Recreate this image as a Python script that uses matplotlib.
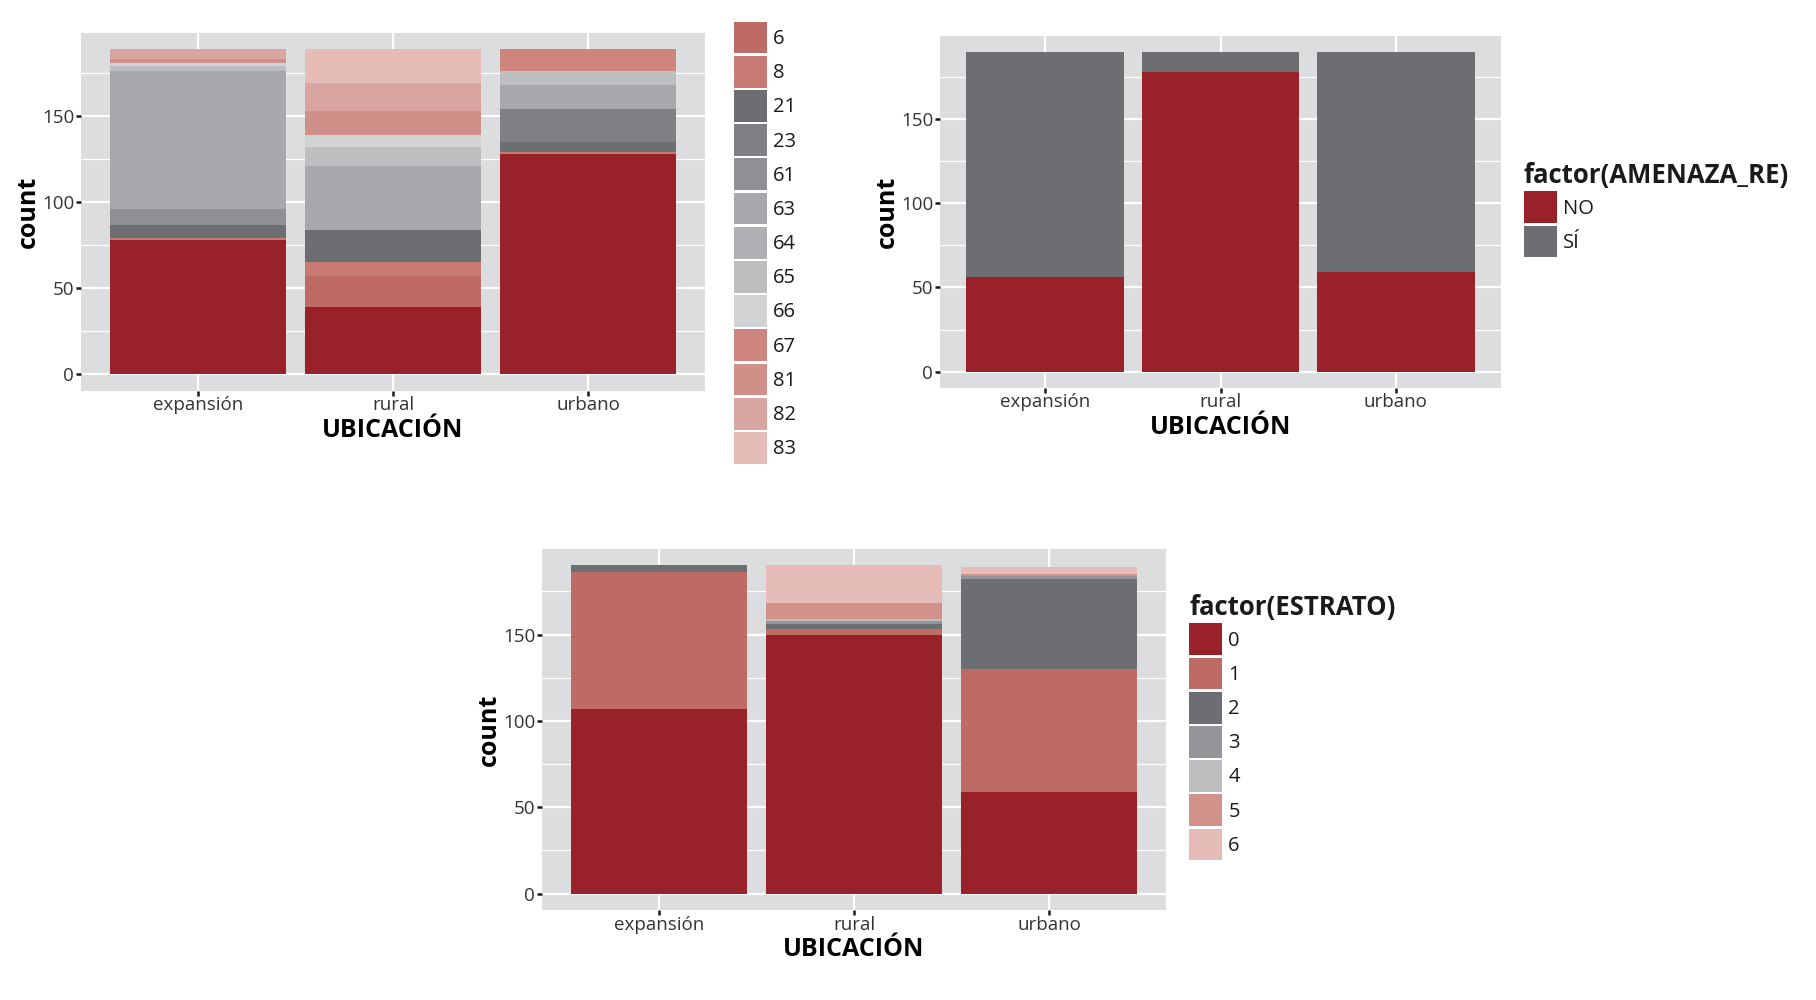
import matplotlib.pyplot as plt
import matplotlib as mpl
from matplotlib.patches import Patch
from matplotlib.ticker import MultipleLocator

mpl.rcParams['font.family'] = ['Open Sans', 'DejaVu Sans']
mpl.rcParams['text.color'] = '#1a1a1a'

ubicacion = ['expansión', 'rural', 'urbano']

# panel 1 (top left): first level is not visible in the legend
niveles_1 = ['0', '6', '8', '21', '23', '61', '63', '64', '65', '66', '67', '81', '82', '83']
colores_1 = ['#98212a', '#bd6b64', '#c87a75', '#6d6e71', '#7f8083', '#8f9093',
             '#a6a8ab', '#aeb0b3', '#bcbec0', '#d1d3d4', '#cd857e', '#d0908a',
             '#d9a5a0', '#e5bcb8']
conteo_1 = [
    [78, 39, 128],   # 0
    [0, 18, 0],      # 6
    [1, 8, 1],       # 8
    [8, 19, 6],      # 21
    [0, 0, 19],      # 23
    [9, 0, 0],       # 61
    [80, 37, 14],    # 63
    [0, 0, 0],       # 64
    [3, 11, 8],      # 65
    [2, 7, 0],       # 66
    [0, 0, 13],      # 67
    [2, 14, 0],      # 81
    [6, 16, 0],      # 82
    [0, 20, 0],      # 83
]

# panel 2 (top right)
niveles_2 = ['NO', 'SÍ']
colores_2 = ['#98212a', '#6d6e71']
conteo_2 = [
    [56, 178, 59],   # NO
    [134, 12, 131],  # SÍ
]

# panel 3 (bottom)
niveles_3 = ['0', '1', '2', '3', '4', '5', '6']
colores_3 = ['#98212a', '#bd6b64', '#6d6e71', '#939598', '#bcbec0', '#d2928b', '#e5bcb8']
conteo_3 = [
    [107, 150, 59],  # 0
    [79, 3, 71],     # 1
    [4, 3, 52],      # 2
    [0, 2, 2],       # 3
    [0, 1, 0],       # 4
    [0, 9, 1],       # 5
    [0, 22, 4],      # 6
]

W, H = 1816, 1000


def px_axes(fig, left, top, right, bottom):
    """ axes placed from pixel edges of the reference"""
    return fig.add_axes([left / W, 1 - bottom / H, (right - left) / W, (bottom - top) / H])


def stacked(ax, conteo, colores):
    x = [1, 2, 3]
    base = [0, 0, 0]
    for vals, col in zip(conteo, colores):
        ax.bar(x, vals, bottom=base, width=0.9, color=col, linewidth=0)
        base = [b + v for b, v in zip(base, vals)]
    top = max(base)
    ax.set_ylim(-0.05 * top, 1.05 * top)
    ax.set_xlim(0.4, 3.6)

    # ggplot-like look
    ax.set_facecolor('#dcdddf')
    for s in ax.spines.values():
        s.set_visible(False)
    ax.set_axisbelow(True)
    ax.set_xticks(x, ubicacion)
    ax.set_yticks([0, 50, 100, 150])
    ax.yaxis.set_minor_locator(MultipleLocator(25))
    ax.grid(which='major', axis='both', color='white', linewidth=1.6)
    ax.grid(which='minor', axis='y', color='white', linewidth=0.9)
    ax.tick_params(which='major', length=3.5, width=1.8, color='#1a1a1a',
                   labelsize=13.5, labelcolor='#333333', pad=1.5)
    ax.tick_params(axis='x', which='major', pad=0.5)
    ax.tick_params(which='minor', length=0)
    ax.set_xlabel('UBICACIÓN', fontsize=18, fontweight='bold', labelpad=2.5)
    ax.set_ylabel('count', fontsize=18, fontweight='bold', labelpad=1)


def legend(fig, niveles, colores, x, y, title=None):
    handles = [Patch(facecolor=c, linewidth=0) for c in colores]
    fig.legend(handles, niveles, loc='upper left',
               bbox_to_anchor=(x / W, 1 - y / H),
               frameon=False, borderpad=0, borderaxespad=0,
               fontsize=14.5, handlelength=1.65, handleheight=2.05,
               labelspacing=0.12, handletextpad=0.3,
               title=title, alignment='left',
               title_fontproperties={'weight': 'bold', 'size': 18.5})


fig = plt.figure(figsize=(W / 100, H / 100), dpi=100)

ax1 = px_axes(fig, 81, 32.7, 705, 390.7)
stacked(ax1, conteo_1, colores_1)
legend(fig, niveles_1[1:], colores_1[1:], 734, 21.7)

ax2 = px_axes(fig, 940, 35.7, 1501, 387.7)
stacked(ax2, conteo_2, colores_2)
legend(fig, niveles_2, colores_2, 1524, 162, title='factor(AMENAZA_RE)')

ax3 = px_axes(fig, 542, 549, 1166, 910)
stacked(ax3, conteo_3, colores_3)
legend(fig, niveles_3, colores_3, 1189, 594, title='factor(ESTRATO)')

fig.savefig('out.png', dpi=100, facecolor='white')
